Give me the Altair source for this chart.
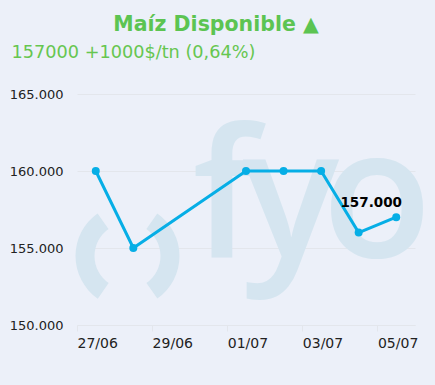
import altair as alt
import pandas as pd

# ---- data ----
dates = ["2024-06-27T00:00:00Z", "2024-06-28T00:00:00Z", "2024-07-01T00:00:00Z",
         "2024-07-02T00:00:00Z", "2024-07-03T00:00:00Z", "2024-07-04T00:00:00Z",
         "2024-07-05T00:00:00Z"]
prices = [160000, 155000, 160000, 160000, 160000, 156000, 157000]
y_ticks = [150000, 155000, 160000, 165000]
x_tick_days = [(6, 26), (6, 28), (6, 30), (7, 2), (7, 4)]   # ticks at noon between days
title_text = "Maíz Disponible ▲"
subtitle_text = "157000 +1000$/tn (0,64%)"

df = pd.DataFrame({"date": dates, "price": prices})
last_df = df.tail(1)

FONT = "DejaVu Sans"
BG = "#ECF0F9"
LINE = "#06AEE6"
WM = "#D5E5F0"
GRID = "#E3E6EC"

x_scale = alt.Scale(
    type="utc",
    domain=[alt.DateTime(year=2024, month=6, date=26, hours=12, utc=True),
            alt.DateTime(year=2024, month=7, date=5, hours=12, utc=True)],
)
y_scale = alt.Scale(domain=[150000, 165000], nice=False, zero=False)

x_axis = alt.Axis(
    title=None,
    values=[alt.DateTime(year=2024, month=m, date=d, hours=12, utc=True) for m, d in x_tick_days],
    labelExpr="utcFormat(datum.value + 43200000, '%d/%m')",
    labelAlign="left",
    labelFont=FONT, labelFontSize=14, labelColor="#222222",
    labelPadding=5, tickSize=6, tickColor=GRID, domainColor=GRID,
    grid=False, labelFlush=False, labelOverlap=False,
)
y_axis = alt.Axis(
    title=None, values=y_ticks,
    labelExpr="replace(format(datum.value, ',d'), ',', '.')",
    labelFont=FONT, labelFontSize=13, labelColor="#222222",
    labelPadding=14, ticks=False, domain=False,
    grid=True, gridColor=GRID, gridWidth=1,
)

X = alt.X("date:T", scale=x_scale, axis=x_axis)
Y = alt.Y("price:Q", scale=y_scale, axis=y_axis)
base = alt.Chart(df).encode(x=X, y=Y)

one = pd.DataFrame({"a": [0]})

# watermark (decorative logo)
wm_arcs = [
    alt.Chart(one).mark_arc(color=WM, radius=52, radius2=33, theta=3.75, theta2=5.67)
    .encode(x=alt.value(50.5), y=alt.value(162)),
    alt.Chart(one).mark_arc(color=WM, radius=52, radius2=33, theta=0.61, theta2=2.53)
    .encode(x=alt.value(50.5), y=alt.value(162)),
]
wm_letters = [
    alt.Chart(one).mark_text(text=t, font="Open Sans", fontWeight=600, fontSize=180,
                             color=WM, align="center", baseline="alphabetic")
    .encode(x=alt.value(x), y=alt.value(163))
    for t, x in [("f", 148), ("y", 214), ("o", 300)]
]

line = base.mark_line(color=LINE, strokeWidth=3)
points = base.mark_point(filled=True, color=LINE, size=64, opacity=1)
label = alt.Chart(last_df).transform_calculate(
    lbl="replace(format(datum.price, ',d'), ',', '.')"
).mark_text(
    font=FONT, fontWeight="bold", fontSize=13.5, color="#000000",
    dx=-25, dy=-10.5, baseline="alphabetic", align="center",
).encode(x=X, y=Y, text="lbl:N")

title = alt.Chart(one).mark_text(
    text=title_text, font=FONT, fontWeight="bold", fontSize=20.5,
    color="#5CC452", align="center", baseline="alphabetic",
).encode(x=alt.value(139), y=alt.value(-63))
subtitle = alt.Chart(one).mark_text(
    text=subtitle_text, font=FONT, fontSize=17.7,
    color="#66C650", align="left", baseline="alphabetic",
).encode(x=alt.value(-65.5), y=alt.value(-36))

chart = alt.layer(
    *wm_arcs, *wm_letters, line, points, label, title, subtitle
).properties(
    width=338, height=231,
    padding={"left": 77, "top": 94, "right": 20, "bottom": 60},
    autosize=alt.AutoSizeParams(type="none"),
    background=BG,
).configure_view(stroke=None)

chart.save("out.html", embed_options={"renderer": "svg", "actions": False})
